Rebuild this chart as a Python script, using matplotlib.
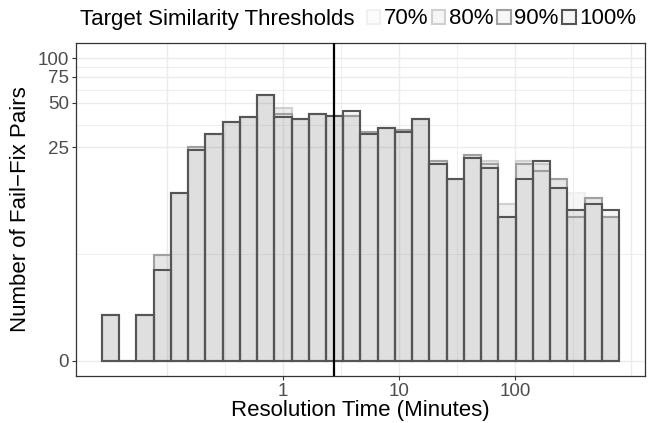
import numpy as np
import matplotlib
matplotlib.use("Agg")
import matplotlib.pyplot as plt
from matplotlib.patches import Patch

plt.rcParams['font.family'] = ['Liberation Sans', 'DejaVu Sans']

# ------------------------------------------------------------------
# data (counts, 30 log10-spaced bins)
# ------------------------------------------------------------------
log_lo, log_hi, n_bins = -1.560, 2.897, 30
thresholds = ["70%", "80%", "90%", "100%"]

counts_100 = [1, 0, 1, 3, 12, 24, 31, 37, 40, 57, 40, 39, 42, 41, 44,
              31, 34, 32, 39, 19, 15, 21, 18, 8, 15, 20, 13, 9, 10, 9]
counts_90  = [1, 0, 1, 4, 12, 25, 31, 37, 40, 57, 42, 39, 42, 41, 41,
              32, 34, 33, 39, 20, 15, 22, 19, 8, 19, 17, 15, 8, 11, 8]
counts_80  = [1, 0, 1, 4, 12, 25, 31, 37, 40, 57, 46, 39, 42, 41, 41,
              32, 34, 33, 39, 20, 15, 22, 20, 10, 20, 19, 15, 9, 11, 8]
counts_70  = [1, 0, 1, 4, 12, 25, 31, 37, 40, 57, 46, 39, 42, 41, 41,
              32, 34, 33, 39, 20, 15, 22, 20, 10, 20, 19, 15, 12, 11, 8]
counts = {"70%": counts_70, "80%": counts_80, "90%": counts_90, "100%": counts_100}

edge_colors = {"70%": "#f0f0f0", "80%": "#d0d0d0", "90%": "#a0a0a0", "100%": "#555555"}
median_line = 2.77

y_ticks = [0, 25, 50, 75, 100]
x_ticks = [1, 10, 100]

fill = (0.5, 0.5, 0.5, 0.065)

# ------------------------------------------------------------------
# figure
# ------------------------------------------------------------------
fig = plt.figure(figsize=(6.51, 4.23), dpi=100)
ax = fig.add_axes([0.1167, 0.1111, 0.8741, 0.7872])

ax.set_xscale("log")
ax.set_yscale("function", functions=(np.log1p, np.expm1))

edges = 10 ** np.linspace(log_lo, log_hi, n_bins + 1)
lefts = edges[:-1]
widths = np.diff(edges)

for th in thresholds:
    ax.bar(lefts, counts[th], width=widths, align="edge", bottom=0,
           facecolor=fill, edgecolor=edge_colors[th],
           linewidth=1.5, zorder=2)

ax.axvline(median_line, color="black", lw=1.6, zorder=3)

# limits (ggplot-style 5% expansion)
span = log_hi - log_lo
ax.set_xlim(10 ** (log_lo - 0.05 * span), 10 ** (log_hi + 0.05 * span))
ty = np.log1p(100)
ax.set_ylim(np.expm1(-0.05 * ty), np.expm1(1.05 * ty))

# grid
ax.set_axisbelow(True)
for k in range(-1, 4):
    ax.axvline(10.0 ** k, color="#ebebeb", lw=1.0, zorder=0)
for k in range(-1, 3):
    ax.axvline(10.0 ** (k + 0.5), color="#ebebeb", lw=0.6, zorder=0)
for v in y_ticks:
    ax.axhline(v, color="#ebebeb", lw=1.0, zorder=0)
for a, b in zip(y_ticks[:-1], y_ticks[1:]):
    ax.axhline(np.expm1((np.log1p(a) + np.log1p(b)) / 2), color="#ebebeb", lw=0.6, zorder=0)

ax.set_xticks(x_ticks)
ax.set_xticklabels([str(t) for t in x_ticks])
ax.xaxis.set_minor_locator(matplotlib.ticker.NullLocator())
ax.set_yticks(y_ticks)
ax.set_yticklabels([str(t) for t in y_ticks])
ax.yaxis.set_minor_locator(matplotlib.ticker.NullLocator())
ax.tick_params(axis="both", labelsize=13.5, colors="#333333", labelcolor="#4d4d4d",
               length=3, width=0.8, pad=2)

for s in ax.spines.values():
    s.set_color("#333333")
    s.set_linewidth(0.9)

ax.set_xlabel("Resolution Time (Minutes)", fontsize=16, labelpad=0)
ax.set_ylabel("Number of Fail\u2212Fix Pairs", fontsize=16, labelpad=5)

# legend on top
fig.text(80 / 651, 1 - 19 / 423, "Target Similarity Thresholds", fontsize=16,
         va="center", ha="left")
handles = [Patch(facecolor=fill if th != "70%" else (0.5, 0.5, 0.5, 0.02),
                 edgecolor=edge_colors[th], linewidth=1.5)
           for th in thresholds]
fig.legend(handles, thresholds, loc="center left", bbox_to_anchor=(367 / 651, 1 - 19 / 423),
           ncol=4, frameon=False, fontsize=16, handlelength=0.6, handleheight=0.6,
           handletextpad=0.15, columnspacing=0.18, borderpad=0, borderaxespad=0)

fig.savefig("out.png", dpi=100)
